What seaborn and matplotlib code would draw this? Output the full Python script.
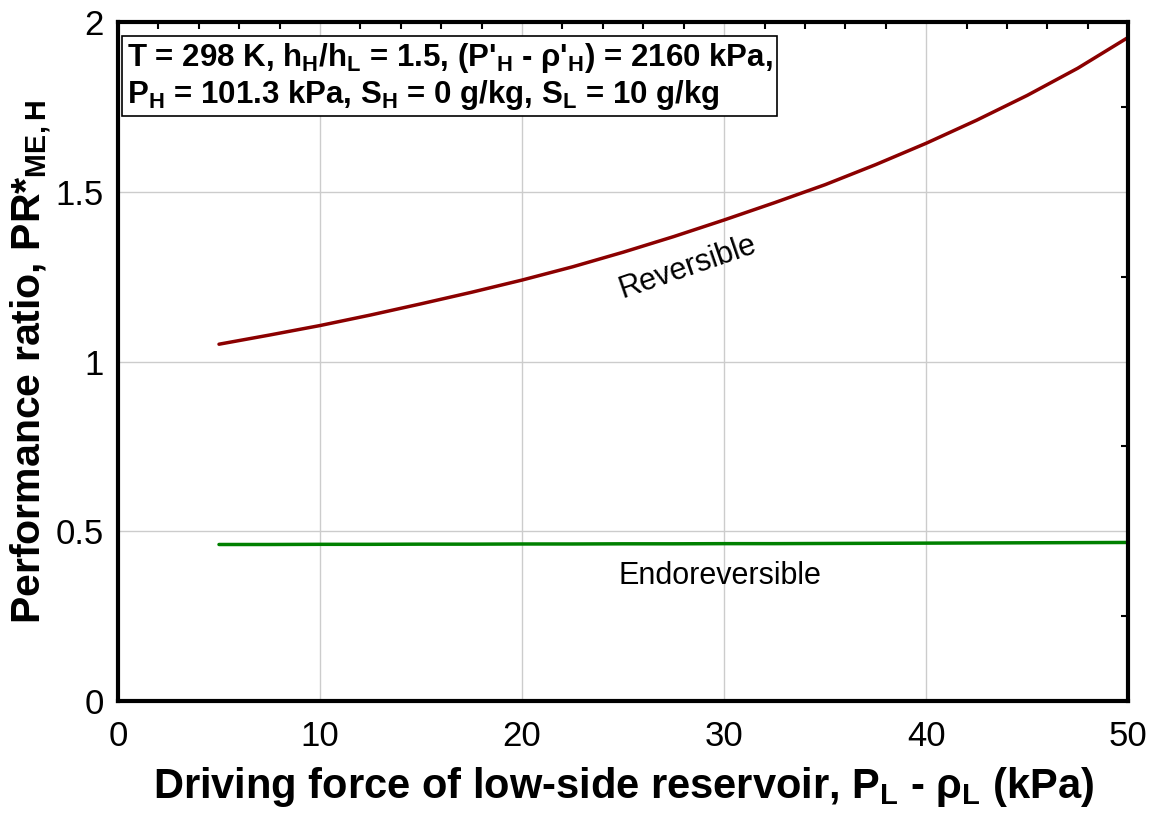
import matplotlib
matplotlib.use("Agg")
import matplotlib.pyplot as plt
import seaborn as sns
import pandas as pd
from matplotlib.ticker import MultipleLocator

# ==========================
# DATA
# ==========================
driving_force = [5, 7.5, 10, 12.5, 15, 17.5, 20, 22.5, 25, 27.5, 30,
                 32.5, 35, 37.5, 40, 42.5, 45, 47.5, 50]
pr_reversible = [1.051, 1.078, 1.106, 1.137, 1.170, 1.204, 1.240, 1.279, 1.322, 1.368, 1.417,
                 1.468, 1.521, 1.580, 1.643, 1.711, 1.784, 1.864, 1.955]
pr_endoreversible = [0.461, 0.461, 0.4615, 0.4615, 0.462, 0.462, 0.4625, 0.4625, 0.463, 0.463,
                     0.4635, 0.4635, 0.464, 0.4645, 0.465, 0.4655, 0.466, 0.4665, 0.467]

series_names = ["Reversible", "Endoreversible"]
series_colors = ["#8b0000", "#008000"]

x_ticks = [0, 10, 20, 30, 40, 50]
y_ticks = [0, 0.5, 1, 1.5, 2]
y_tick_labels = ["0", "0.5", "1", "1.5", "2"]

df = pd.DataFrame({
    "x": driving_force * 2,
    "y": pr_reversible + pr_endoreversible,
    "case": [series_names[0]] * len(driving_force) + [series_names[1]] * len(driving_force),
})

# ==========================
# STYLE
# ==========================
sns.set_style("white")
plt.rcParams["font.family"] = ["Liberation Sans", "DejaVu Sans"]
plt.rcParams["mathtext.default"] = "regular"
plt.rcParams["text.color"] = "black"
plt.rcParams["axes.labelcolor"] = "black"
plt.rcParams["xtick.color"] = "black"
plt.rcParams["ytick.color"] = "black"

fig = plt.figure(figsize=(11.52, 8.17), dpi=100)
ax = fig.add_axes([0.1024, 0.142, 0.877, 0.831])

sns.lineplot(
    data=df, x="x", y="y", hue="case",
    palette=dict(zip(series_names, series_colors)),
    linewidth=2.5, legend=False, ax=ax
)

ax.set_xlim(0, 50)
ax.set_ylim(0, 2)
ax.set_xticks(x_ticks)
ax.set_yticks(y_ticks)
ax.set_yticklabels(y_tick_labels)
ax.xaxis.set_minor_locator(MultipleLocator(2))
ax.yaxis.set_minor_locator(MultipleLocator(0.25))

ax.grid(True, which="major", color="#cccccc", linewidth=1)
ax.tick_params(which="both", direction="in", top=True, right=True, width=1.5)
ax.tick_params(which="major", length=0, labelsize=25)
ax.tick_params(axis="x", which="major", pad=14)
ax.tick_params(axis="y", which="major", pad=10)
ax.tick_params(which="minor", length=5)

for s in ax.spines.values():
    s.set_linewidth(3)
    s.set_color("black")

ax.set_xlabel("Driving force of low-side reservoir, P$_L$ - ρ$_L$ (kPa)",
              fontsize=30, fontweight="bold", labelpad=8)
ax.set_ylabel("Performance ratio, PR*$_{ME,H}$",
              fontsize=29.5, fontweight="bold", labelpad=2)

# curve labels
ax.text(28.2, 1.278, "Reversible", fontsize=22, rotation=19,
        ha="center", va="center")
ax.text(29.8, 0.368, "Endoreversible", fontsize=22,
        ha="center", va="center")

# conditions box
ax.text(0.009, 0.972,
        "T = 298 K, h$_H$/h$_L$ = 1.5, (P'$_H$ - ρ'$_H$) = 2160 kPa,\n"
        "P$_H$ = 101.3 kPa, S$_H$ = 0 g/kg, S$_L$ = 10 g/kg",
        transform=ax.transAxes, fontsize=22.5, fontweight="bold",
        ha="left", va="top", linespacing=1.1,
        bbox=dict(boxstyle="square,pad=0.15", facecolor="white",
                  edgecolor="black", linewidth=1.2))

fig.savefig("out.png", dpi=100)
